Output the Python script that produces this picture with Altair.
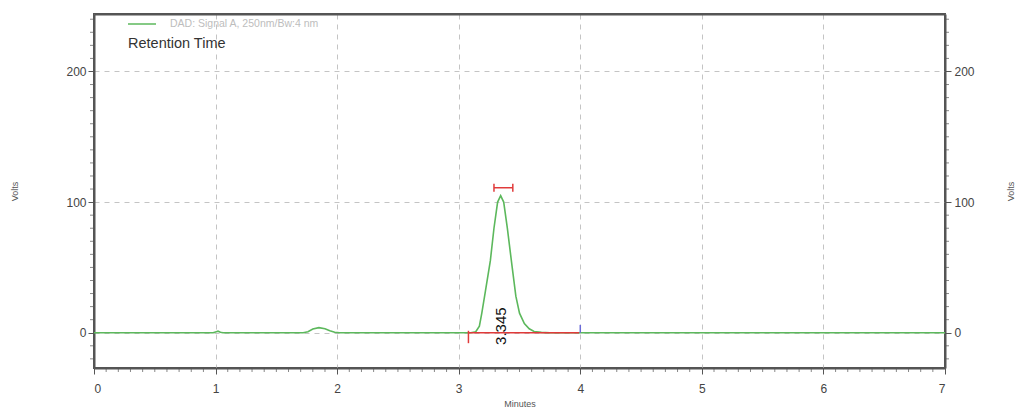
import altair as alt
import pandas as pd

# Chromatogram trace (minutes, volts)
time = [0.0, 0.98, 1.00, 1.02, 1.04, 1.06, 1.72, 1.76, 1.80, 1.85, 1.90, 1.94, 1.98, 2.02,
        3.10, 3.14, 3.17, 3.19, 3.22, 3.26, 3.29, 3.32, 3.345, 3.37, 3.40, 3.44, 3.47,
        3.50, 3.54, 3.58, 3.62, 3.68, 3.75, 7.0]
volts = [0.0, 0.0, 0.6, 1.2, 0.4, 0.0, 0.0, 0.8, 2.8, 3.9, 3.0, 1.5, 0.4, 0.0,
         0.0, 0.8, 5.0, 15.0, 32.0, 55.0, 80.0, 100.0, 105.0, 100.0, 80.0, 50.0, 28.0,
         15.0, 7.0, 3.0, 1.0, 0.3, 0.0, 0.0]

x_ticks = [0, 1, 2, 3, 4, 5, 6, 7]
y_ticks = [0, 100, 200]
x_minor = [i / 10 for i in range(71) if i % 10]
y_minor = [v for v in range(-20, 241, 10) if v % 100]

peak_rt = [3.345]
peak_label = ["3.345"]
peak_label_y = [5]

# integration marks: x, x2, y, y2, colour
seg_x = [3.08, 3.08, 4.0, 3.29, 3.29, 3.445]
seg_x2 = [3.99, 3.08, 4.0, 3.445, 3.29, 3.445]
seg_y = [0, 1.5, 0, 111, 108, 108]
seg_y2 = [0, -8, 6, 111, 114, 114]
seg_c = ["#e03a3a", "#e03a3a", "#6a6ad8", "#e03a3a", "#e03a3a", "#e03a3a"]

legend_text = ["DAD: Signal A, 250nm/Bw:4 nm"]
title_text = ["Retention Time"]

W, H = 851, 354
GREEN = "#5cb85c"
AX = "#555555"
FONT = "Liberation Sans"

xs = alt.Scale(domain=[0, 7], nice=False, zero=False)
ys = alt.Scale(domain=[-27, 244], nice=False, zero=False)

trace = pd.DataFrame({"t": time, "v": volts})

line = alt.Chart(trace).mark_line(color=GREEN, strokeWidth=1.6).encode(
    x=alt.X("t:Q", scale=xs, axis=alt.Axis(
        orient="bottom", values=x_ticks, title="Minutes", grid=True, gridDash=[5, 5],
        gridColor="#c4c4c4", tickSize=6, tickColor=AX, domainColor=AX, domainWidth=2,
        labelPadding=9, labelFontSize=12, labelColor="#444", labelFont=FONT,
        titleFont=FONT, titleFontSize=9, titleFontWeight="normal", titleColor="#555",
        titlePadding=5, format="d")),
    y=alt.Y("v:Q", scale=ys, axis=alt.Axis(
        orient="left", values=y_ticks, title="Volts", grid=True, gridDash=[5, 5],
        gridColor="#c4c4c4", tickSize=6, tickColor=AX, domainColor=AX, domainWidth=2,
        labelPadding=2, labelFontSize=12, labelColor="#444", labelFont=FONT,
        titleFont=FONT, titleFontSize=9, titleFontWeight="normal", titleColor="#555",
        titlePadding=46, format="d")),
)

right_axis = alt.Chart(trace).mark_line(strokeOpacity=0).encode(
    x=alt.X("t:Q", scale=xs, axis=alt.Axis(
        orient="top", values=x_ticks, labels=False, ticks=False, title=None, grid=False,
        domainColor=AX, domainWidth=2)),
    y=alt.Y("v:Q", scale=ys, axis=alt.Axis(
        orient="right", values=y_ticks, title="Volts", grid=False, tickSize=6,
        tickColor=AX, domainColor=AX, domainWidth=2, labelPadding=3, labelFontSize=12,
        labelColor="#444", labelFont=FONT, titleFont=FONT, titleFontSize=9,
        titleFontWeight="normal", titleColor="#555", titleAngle=270,
        titleBaseline="top", titlePadding=32, format="d")),
)

xminor = alt.Chart(pd.DataFrame({"t": x_minor})).mark_tick(
    color=AX, thickness=1, size=4).encode(
    x=alt.X("t:Q", scale=xs, axis=None), y=alt.value(H + 2))

yminor_l = alt.Chart(pd.DataFrame({"v": y_minor})).mark_tick(
    color=AX, thickness=1, size=4).encode(
    y=alt.Y("v:Q", scale=ys, axis=None), x=alt.value(-2))

yminor_r = alt.Chart(pd.DataFrame({"v": y_minor})).mark_tick(
    color=AX, thickness=1, size=4).encode(
    y=alt.Y("v:Q", scale=ys, axis=None), x=alt.value(W + 2))

segs = alt.Chart(pd.DataFrame({"x": seg_x, "x2": seg_x2, "y": seg_y, "y2": seg_y2,
                               "c": seg_c})).mark_rule(strokeWidth=1.5).encode(
    x=alt.X("x:Q", scale=xs, axis=None), x2="x2:Q",
    y=alt.Y("y:Q", scale=ys, axis=None), y2="y2:Q",
    color=alt.Color("c:N", scale=None),
)

label = alt.Chart(pd.DataFrame({"t": peak_rt, "v": peak_label_y, "s": peak_label})).mark_text(
    angle=270, fontSize=15, font=FONT, color="#111", align="center", baseline="middle").encode(
    x=alt.X("t:Q", scale=xs, axis=None), y=alt.Y("v:Q", scale=ys, axis=None), text="s:N")

leg_line = alt.Chart(pd.DataFrame({"k": [0]})).mark_rule(color=GREEN, strokeWidth=1.5).encode(
    x=alt.value(34), x2=alt.value(62), y=alt.value(10))

leg_text = alt.Chart(pd.DataFrame({"s": legend_text})).mark_text(
    align="left", baseline="middle", fontSize=10.5, font=FONT, color="#bdbdbd").encode(
    x=alt.value(76), y=alt.value(10), text="s:N")

ret_text = alt.Chart(pd.DataFrame({"s": title_text})).mark_text(
    align="left", baseline="middle", fontSize=14.5, font=FONT, color="#333").encode(
    x=alt.value(34), y=alt.value(30), text="s:N")

chart = alt.layer(
    line, right_axis, xminor, yminor_l, yminor_r, segs, label, leg_line, leg_text, ret_text
).resolve_axis(x="independent", y="independent").properties(
    width=W, height=H,
    autosize=alt.AutoSizeParams(type="none"),
    padding={"left": 86, "top": 6, "right": 76, "bottom": 43},
).configure_view(stroke=AX, strokeWidth=2)

chart.save("out.html", embed_options={"renderer": "svg", "actions": False})
